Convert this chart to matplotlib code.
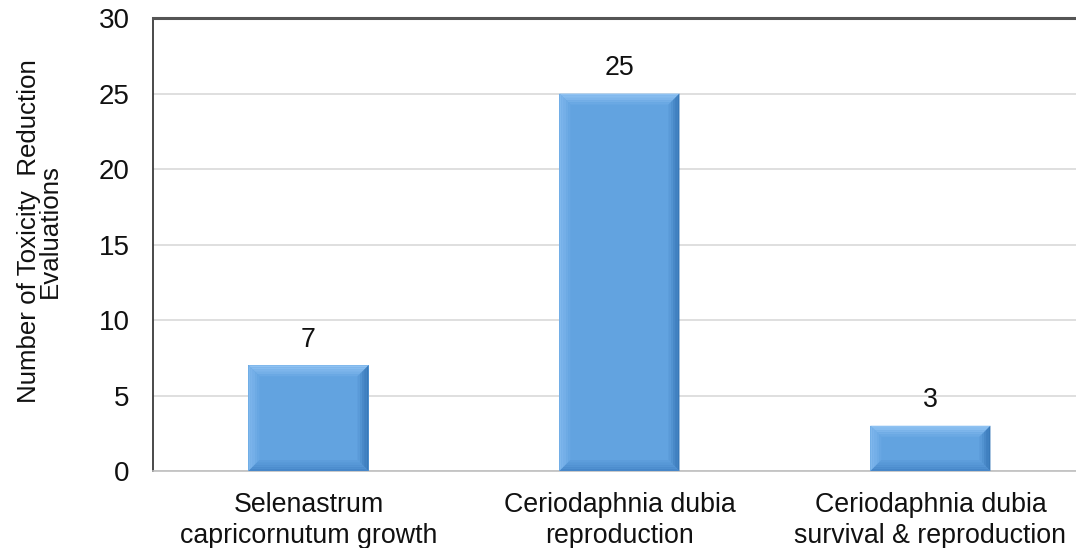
import matplotlib
matplotlib.use("Agg")
import matplotlib.pyplot as plt
from matplotlib.patches import Polygon

categories = ["Selenastrum\ncapricornutum growth",
              "Ceriodaphnia dubia\nreproduction",
              "Ceriodaphnia dubia\nsurvival & reproduction"]
values = [7, 25, 3]
yticks = [0, 5, 10, 15, 20, 25, 30]

plt.rcParams['font.family'] = ['Liberation Sans', 'DejaVu Sans']

fig = plt.figure(figsize=(10.76, 5.48), dpi=100)
ax = fig.add_axes([0.1422, 0.1405, 0.867, 0.8266])

x = list(range(len(categories)))
bw = 0.386
main = '#62A3E0'
bars = ax.bar(x, values, width=bw, color=main, edgecolor='none', zorder=3)

ax.set_xlim(-0.5, len(categories) - 0.5)
ax.set_ylim(0, 30)
ax.set_yticks(yticks)
ax.set_xticks(x)
ax.set_xticklabels(categories, fontsize=19.3, color='#111111', linespacing=1.28)
ax.tick_params(axis='y', labelsize=20, length=0, pad=17, colors='#111111')
ax.tick_params(axis='x', length=0, pad=15)
ax.yaxis.grid(True, color='#D9D9D9', linewidth=1.2, zorder=0)
ax.set_axisbelow(True)

ax.spines['right'].set_visible(False)
ax.spines['top'].set_color('#555555')
ax.spines['top'].set_linewidth(2.2)
ax.spines['left'].set_color('#3a3a3a')
ax.spines['left'].set_linewidth(1.3)
ax.spines['bottom'].set_color('#BFBFBF')
ax.spines['bottom'].set_linewidth(1.2)

ax.set_ylabel("Number of Toxicity  Reduction\nEvaluations", fontsize=18.6,
              color='#111111', linespacing=0.82)
ax.yaxis.set_label_coords(-0.098, 0.53)

# bevel effect (soft gradient approximated by layered bands)
px_x = 1.0 / 311.0   # category units per pixel
px_y = 30.0 / 453.0  # data units per pixel
steps = 5
bev = 11
top_c = (0.56, 0.76, 0.95)
left_c = (0.50, 0.72, 0.93)
right_c = (0.22, 0.47, 0.72)
bot_c = (0.28, 0.53, 0.79)
base = (0x62 / 255, 0xA3 / 255, 0xE0 / 255)

def mix(c, t):
    return tuple(base[i] * (1 - t) + c[i] * t for i in range(3))

for b in bars:
    x0 = b.get_x(); x1 = x0 + b.get_width(); y0 = 0; y1 = b.get_height()
    for k in range(steps):
        d0 = bev * k / steps
        d1 = bev * (k + 1) / steps
        t = 1.0 - k / steps
        ax0, ax1 = x0 + d0 * px_x, x1 - d0 * px_x
        ay0, ay1 = y0 + d0 * px_y, y1 - d0 * px_y
        bx0, bx1 = x0 + d1 * px_x, x1 - d1 * px_x
        by0, by1 = y0 + d1 * px_y, y1 - d1 * px_y
        faces = [
            ([(ax0, ay1), (ax1, ay1), (bx1, by1), (bx0, by1)], top_c),
            ([(ax0, ay0), (ax0, ay1), (bx0, by1), (bx0, by0)], left_c),
            ([(ax1, ay0), (ax1, ay1), (bx1, by1), (bx1, by0)], right_c),
            ([(ax0, ay0), (ax1, ay0), (bx1, by0), (bx0, by0)], bot_c),
        ]
        for pts, c in faces:
            ax.add_patch(Polygon(pts, closed=True, facecolor=mix(c, t),
                                 edgecolor='none', zorder=4, antialiased=True))

for xi, v in zip(x, values):
    ax.annotate(str(v), (xi, v), xytext=(0, 9), textcoords='offset points',
                ha='center', va='bottom', fontsize=19.3, color='#111111')

fig.savefig("out.png", dpi=100)
